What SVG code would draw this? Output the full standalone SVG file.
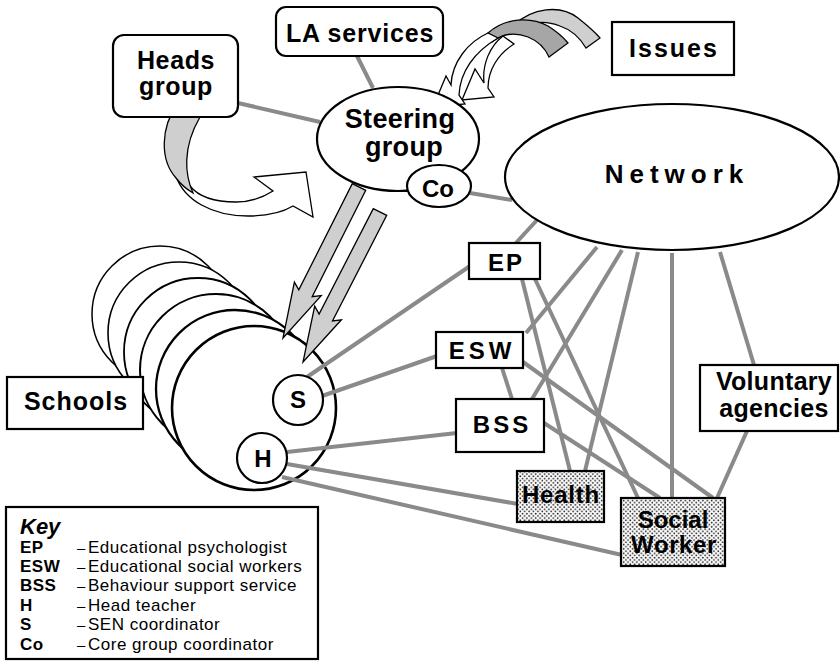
<svg xmlns="http://www.w3.org/2000/svg" width="840" height="661" viewBox="0 0 840 661">
  <defs>
    <pattern id="stipple" width="4.4" height="4.4" patternUnits="userSpaceOnUse">
      <rect width="4.4" height="4.4" fill="#ffffff"/>
      <circle cx="1.1" cy="1.1" r="0.9" fill="#222"/>
      <circle cx="3.3" cy="3.3" r="0.9" fill="#222"/>
    </pattern>
    <style>
      .box { fill: #fff; stroke: #000; stroke-width: 2.2; }
      .dot { fill: url(#stipple); stroke: #000; stroke-width: 2.2; }
      .lbl { font-family: "Liberation Sans", Arial, sans-serif; font-weight: bold; fill: #000; text-anchor: middle; }
      .conn line { stroke: #8a8a8a; stroke-width: 4; stroke-linecap: butt; }
      .coin { fill: #fff; stroke: #000; }
      .bigarrow { fill: #cfcfcf; stroke: #000; stroke-width: 1.3; stroke-linejoin: miter; }
      .ribbon { stroke: #000; stroke-width: 1.3; stroke-linejoin: miter; }
      .key { font-family: "Liberation Sans", Arial, sans-serif; fill: #000; }
      .keyb { font-weight: bold; }
    </style>
  </defs>

  <!-- stack of school circles, back to front -->
  <g id="schools-stack">
    <circle class="coin" cx="160" cy="314" r="68" stroke-width="1.5"/>
    <circle class="coin" cx="179" cy="333" r="71" stroke-width="1.6"/>
    <circle class="coin" cx="198" cy="352" r="74" stroke-width="1.8"/>
    <circle class="coin" cx="216" cy="370" r="76" stroke-width="2"/>
    <circle class="coin" cx="235" cy="389" r="79" stroke-width="2.3"/>
    <circle class="coin" cx="254" cy="408" r="82" stroke-width="2.6"/>
  </g>

  <!-- connectors -->
  <g id="connectors" class="conn">
    <line x1="238" y1="103" x2="320" y2="122"/>
    <line x1="357" y1="56" x2="373" y2="88"/>
    <line x1="470" y1="193" x2="512" y2="200"/>
    <line x1="515" y1="244" x2="537" y2="220"/>
    <line x1="470" y1="266" x2="307" y2="377"/>
    <line x1="437" y1="356" x2="322" y2="396"/>
    <line x1="457" y1="433" x2="287" y2="452"/>
    <line x1="518" y1="504" x2="287" y2="464"/>
    <line x1="622" y1="555" x2="282" y2="477"/>
    <line x1="522" y1="279" x2="570" y2="471"/>
    <line x1="535" y1="279" x2="638" y2="498"/>
    <line x1="502" y1="368" x2="512" y2="399"/>
    <line x1="523" y1="362" x2="713" y2="498"/>
    <line x1="544" y1="423" x2="660" y2="498"/>
    <line x1="597" y1="247" x2="526" y2="333"/>
    <line x1="622" y1="250" x2="532" y2="399"/>
    <line x1="638" y1="252" x2="585" y2="471"/>
    <line x1="672" y1="253" x2="672" y2="498"/>
    <line x1="720" y1="252" x2="754" y2="365"/>
    <line x1="747" y1="431" x2="717" y2="498"/>
  </g>

  <!-- arrows from the steering group down to the schools -->
  <g id="steering-arrows">
    <polygon class="bigarrow" points="352.3,183.6 298.8,289.9 294.4,282.1 283,338 321.2,295.6 312.2,296.7 365.7,190.4"/>
    <polygon class="bigarrow" points="373.3,208.6 319.1,314.1 314.7,306.1 303,362 341.4,319.8 332.5,320.9 386.7,215.4"/>
  </g>

  <!-- curved arrow from the heads group -->
  <g id="heads-arrow">
    <path class="ribbon" fill="#fff" d="M176,176 C184,200 212,216 248,216 C268,216 283,212 293,206 L313,217 L306,172 L254,177 L273,191 C262,198 248,202 236,202 C214,202 198,196 190,186 Z"/>
    <path class="ribbon" fill="#cfcfcf" d="M178,103 C160,128 160,160 176,178 C182,186 188,190 193,193 C185,175 182,148 200,117 Z"/>
  </g>

  <!-- curved arrows from issues -->
  <g id="issues-arrows">
    <path class="ribbon" fill="#cfcfcf" d="M514,25 C532,8 560,4 578,18 C588,26 595,32 600,38 L586,48 C580,38 572,30 560,26 C545,20 530,22 518,30 Z"/>
    <path class="ribbon" fill="#a6a6a6" d="M488,33 C505,18 530,16 548,26 C556,31 563,37 568,43 L549,57 C545,48 538,41 528,37 C515,32 502,34 492,42 Z"/>
    <path class="ribbon" fill="#fff" d="M503,36 C490,46 482,64 484,83 L475,69 L462,100 L494,97 L488,88 C488,70 498,54 514,44 Z"/>
    <path class="ribbon" fill="#fff" d="M488,33 C468,42 452,62 451,85 L446,76 L433,107 L465,104 L459,95 C460,72 474,52 498,38 Z"/>
  </g>

  <!-- nodes -->
  <g id="heads-group">
    <rect class="box" x="113" y="35" width="125" height="82" rx="11"/>
    <text class="lbl" x="176" y="69" font-size="25" letter-spacing="0.6">Heads</text>
    <text class="lbl" x="176" y="95" font-size="25" letter-spacing="0.6">group</text>
  </g>

  <g id="la-services">
    <rect class="box" x="276" y="7" width="167" height="49" rx="10"/>
    <text class="lbl" x="360" y="42" font-size="25" letter-spacing="0.8">LA services</text>
  </g>

  <g id="issues">
    <rect class="box" x="612" y="22" width="122" height="53"/>
    <text class="lbl" x="674" y="57" font-size="25" letter-spacing="2">Issues</text>
  </g>

  <g id="steering-group">
    <ellipse class="box" cx="398" cy="139" rx="81" ry="52" stroke-width="2.6"/>
    <text class="lbl" x="400" y="128" font-size="27" letter-spacing="0.3">Steering</text>
    <text class="lbl" x="404" y="156" font-size="27" letter-spacing="0.3">group</text>
  </g>

  <g id="co">
    <ellipse class="box" cx="439" cy="186" rx="32" ry="21" stroke-width="2.6"/>
    <text class="lbl" x="438" y="197" font-size="24">Co</text>
  </g>

  <g id="network">
    <ellipse class="box" cx="672" cy="177" rx="167" ry="73" stroke-width="2.6"/>
    <text class="lbl" x="677" y="183" font-size="26" letter-spacing="6">Network</text>
  </g>

  <g id="ep">
    <rect class="box" x="469" y="243" width="71" height="36"/>
    <text class="lbl" x="506" y="271" font-size="24" letter-spacing="2">EP</text>
  </g>

  <g id="esw">
    <rect class="box" x="436" y="332" width="87" height="36"/>
    <text class="lbl" x="482" y="359" font-size="24" letter-spacing="4">ESW</text>
  </g>

  <g id="bss">
    <rect class="box" x="456" y="399" width="88" height="53"/>
    <text class="lbl" x="502" y="433" font-size="24" letter-spacing="3">BSS</text>
  </g>

  <g id="health">
    <rect class="dot" x="517" y="471" width="87" height="51"/>
    <text class="lbl" x="561" y="503" font-size="24" letter-spacing="0.8">Health</text>
  </g>

  <g id="social-worker">
    <rect class="dot" x="621" y="498" width="104" height="68"/>
    <text class="lbl" x="673" y="528" font-size="24">Social</text>
    <text class="lbl" x="674" y="553" font-size="24" letter-spacing="0.6">Worker</text>
  </g>

  <g id="voluntary-agencies">
    <rect class="box" x="700" y="365" width="138" height="66"/>
    <text class="lbl" x="774" y="390" font-size="25" letter-spacing="0.3">Voluntary</text>
    <text class="lbl" x="774" y="417" font-size="25" letter-spacing="0.3">agencies</text>
  </g>

  <g id="schools">
    <rect class="box" x="7" y="377" width="136" height="52"/>
    <text class="lbl" x="76" y="410" font-size="25" letter-spacing="1">Schools</text>
  </g>

  <g id="s">
    <circle class="box" cx="298" cy="400" r="25" stroke-width="2.4"/>
    <text class="lbl" x="298" y="408" font-size="24">S</text>
  </g>

  <g id="h">
    <circle class="box" cx="262" cy="458" r="25" stroke-width="2.4"/>
    <text class="lbl" x="263" y="467" font-size="24">H</text>
  </g>

  <!-- key -->
  <g id="key">
    <rect class="box" x="6" y="507" width="312" height="152" stroke-width="2"/>
    <text class="key keyb" x="20" y="534" font-size="22" font-style="italic">Key</text>
    <g class="key" font-size="17" letter-spacing="0.5">
      <text class="keyb" x="20" y="553">EP</text>
      <text x="77" y="553" font-size="15">–</text>
      <text x="88" y="553">Educational psychologist</text>
      <text class="keyb" x="20" y="572">ESW</text>
      <text x="77" y="572" font-size="15">–</text>
      <text x="88" y="572">Educational social workers</text>
      <text class="keyb" x="20" y="591">BSS</text>
      <text x="77" y="591" font-size="15">–</text>
      <text x="88" y="591">Behaviour support service</text>
      <text class="keyb" x="20" y="611">H</text>
      <text x="77" y="611" font-size="15">–</text>
      <text x="88" y="611">Head teacher</text>
      <text class="keyb" x="20" y="630">S</text>
      <text x="77" y="630" font-size="15">–</text>
      <text x="88" y="630">SEN coordinator</text>
      <text class="keyb" x="20" y="650">Co</text>
      <text x="77" y="650" font-size="15">–</text>
      <text x="88" y="650">Core group coordinator</text>
    </g>
  </g>
</svg>
